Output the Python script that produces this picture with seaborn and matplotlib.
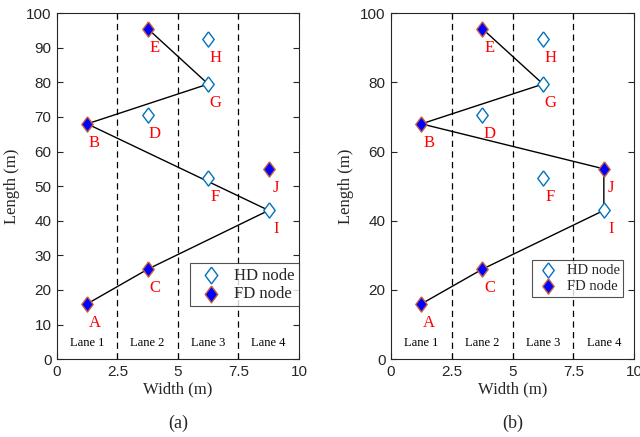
import matplotlib
matplotlib.use("Agg")
import matplotlib.pyplot as plt
import seaborn as sns
import pandas as pd
import numpy as np

# Data
node_names = ["A", "B", "C", "D", "E", "F", "G", "H", "I", "J"]
node_x = [1.25, 1.25, 3.75, 3.75, 3.75, 6.25, 6.25, 6.25, 8.75, 8.75]
node_y = [16, 68, 26, 70.5, 95.5, 52.5, 79.5, 92.5, 43, 55]
node_type = ["FD node", "FD node", "FD node", "HD node", "FD node",
             "HD node", "HD node", "HD node", "HD node", "FD node"]
path_a = ["A", "C", "I", "B", "G", "E"]
path_b = ["A", "C", "I", "J", "B", "G", "E"]
lane_bounds = [2.5, 5, 7.5]
lane_labels = ["Lane 1", "Lane 2", "Lane 3", "Lane 4"]
lane_centers = [1.25, 3.75, 6.25, 8.75]
x_ticks = [0, 2.5, 5, 7.5, 10]
x_tick_labels = ["0", "2.5", "5", "7.5", "10"]
y_ticks_a = [0, 10, 20, 30, 40, 50, 60, 70, 80, 90, 100]
y_ticks_b = [0, 20, 40, 60, 80, 100]
panel_tags = ["(a)", "(b)"]

sns.set_theme(style="white")
plt.rcParams["font.family"] = ["Liberation Sans", "DejaVu Sans"]
serif = ["Liberation Serif", "DejaVu Serif"]

df = pd.DataFrame({"name": node_names, "x": node_x, "y": node_y, "type": node_type})
pos = df.set_index("name")

diamond = [(0, 1), (0.75, 0), (0, -1), (-0.75, 0), (0, 1)]

fig = plt.figure(figsize=(6.4, 4.37), dpi=100)
ax_a = fig.add_axes([0.089, 0.178, 0.378, 0.792])
ax_b = fig.add_axes([0.611, 0.178, 0.380, 0.792])

legend_cfg = {
    0: dict(anchor=(1.0, 0.153), size=12, ms=1.1, hl=2.0, ls=0.15),
    1: dict(anchor=(0.955, 0.18), size=10.5, ms=1.0, hl=1.7, ls=0.2),
}

for i, (ax, path, yt, tag) in enumerate([(ax_a, path_a, y_ticks_a, panel_tags[0]),
                                         (ax_b, path_b, y_ticks_b, panel_tags[1])]):
    for xb in lane_bounds:
        ax.axvline(xb, color="black", ls=(0, (5, 3.5)), lw=0.9, zorder=1)
    pdf = pd.DataFrame({"x": [pos.loc[n, "x"] for n in path],
                        "y": [pos.loc[n, "y"] for n in path]})
    sns.lineplot(data=pdf, x="x", y="y", sort=False, color="black", lw=1.0,
                 ax=ax, zorder=2, estimator=None)
    hd = df[df["type"] == "HD node"]
    fd = df[df["type"] == "FD node"]
    sns.scatterplot(data=hd, x="x", y="y", marker=diamond, s=120,
                    facecolor="white", edgecolor="#0072BD", linewidth=1.0,
                    ax=ax, zorder=3, label="HD node")
    sns.scatterplot(data=fd, x="x", y="y", marker=diamond, s=120,
                    color="#0000FF", edgecolor="#C8603A", linewidth=1.0,
                    ax=ax, zorder=4, label="FD node")
    for _, r in df.iterrows():
        ax.text(r["x"] + 0.3, r["y"] - 5.5, r["name"], color="red",
                fontsize=12, family=serif, ha="center", va="center")
    for lc, ll in zip(lane_centers, lane_labels):
        ax.text(lc, 4.6, ll, fontsize=9, family=serif, ha="center",
                va="center", color="black")
    ax.set_xlim(0, 10)
    ax.set_ylim(0, 100)
    ax.set_xticks(x_ticks)
    ax.set_xticklabels(x_tick_labels)
    ax.set_yticks(yt)
    ax.tick_params(direction="in", length=4, width=0.8, top=True, right=True,
                   labelsize=11, colors="#262626", pad=4)
    ax.tick_params(axis="both", which="both", bottom=True, left=True)
    for sp in ax.spines.values():
        sp.set_color("#262626")
        sp.set_linewidth(0.8)
    ax.set_xlabel("Width (m)", family=serif, fontsize=12, labelpad=2)
    ax.set_ylabel("Length (m)", family=serif, fontsize=12, labelpad=4)
    ax.text(0.5, -0.16, tag, transform=ax.transAxes, family=serif,
            fontsize=13, ha="center", va="top")
    c = legend_cfg[i]
    leg = ax.legend(loc="lower right", bbox_to_anchor=c["anchor"],
                    frameon=True, fancybox=False,
                    prop={"family": serif, "size": c["size"]},
                    handletextpad=0.4, borderpad=0.25, labelspacing=c["ls"],
                    handlelength=c["hl"], borderaxespad=0, markerscale=c["ms"])
    leg.get_frame().set_edgecolor("#262626")
    leg.get_frame().set_linewidth(0.8)

fig.savefig("out.png", dpi=100)
